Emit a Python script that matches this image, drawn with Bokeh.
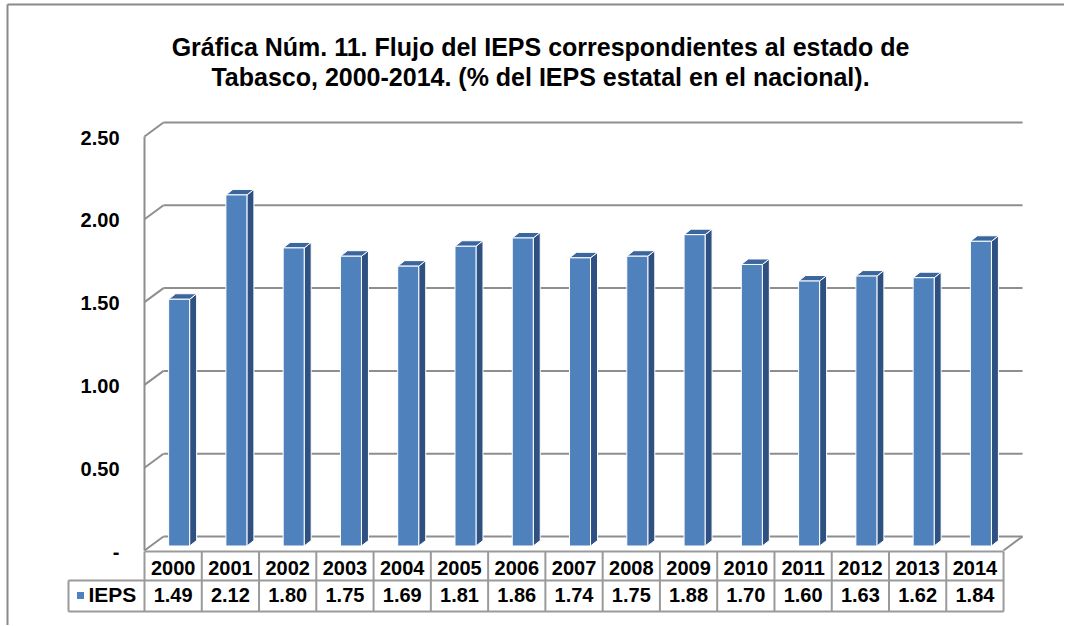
from bokeh.plotting import figure
from bokeh.models import Range1d, ColumnDataSource
from bokeh.core.properties import value
from bokeh.embed import file_html
from bokeh.resources import INLINE

# ---------------- data ----------------
years = ["2000", "2001", "2002", "2003", "2004", "2005", "2006", "2007",
         "2008", "2009", "2010", "2011", "2012", "2013", "2014"]
ieps = [1.49, 2.12, 1.80, 1.75, 1.69, 1.81, 1.86, 1.74, 1.75, 1.88,
        1.70, 1.60, 1.63, 1.62, 1.84]
series_name = "IEPS"
y_ticks = [0.0, 0.5, 1.0, 1.5, 2.0, 2.5]
y_tick_labels = ["-", "0.50", "1.00", "1.50", "2.00", "2.50"]
title_lines = ["Gráfica Núm. 11. Flujo del IEPS correspondientes al estado de",
               "Tabasco, 2000-2014. (% del IEPS estatal en el nacional)."]

# ---------------- layout (pixel scale helpers) ----------------
W, H = 1064, 625
PX_X = 57.27          # pixels per category column
PX_Y = 165.6          # pixels per value unit
X0_PX = 144           # x pixel of category 0 edge
Y0_PX = 550           # y pixel (from top) of value 0 (front plane)

def dx(px):
    return px / PX_X

def dy(px):
    return px / PX_Y

def ix(px):
    return (px - X0_PX) / PX_X

def iy(py):
    return (Y0_PX - py) / PX_Y

FONT = value("Liberation Sans")
GRID = "#8e8e8e"
TABLE = "#9a9a9a"

p = figure(width=W, height=H, output_backend="svg", toolbar_location=None,
           x_range=Range1d(ix(0), ix(W)), y_range=Range1d(iy(H), iy(0)),
           min_border=0, border_fill_color="white", background_fill_color="white")
p.axis.visible = False
p.grid.visible = False
p.outline_line_color = None

n = len(years)

# outer chart border (left and top visible)
p.segment(x0=[ix(7), ix(7)], y0=[iy(H), iy(4)], x1=[ix(7), ix(W)], y1=[iy(4), iy(4)],
          line_color="#8a8a8a", line_width=2)

# ---------------- 3D walls ----------------
DX, DY = dx(19), dy(14)
p.segment(x0=[DX] * len(y_ticks), y0=[v + DY for v in y_ticks],
          x1=[n + DX] * len(y_ticks), y1=[v + DY for v in y_ticks],
          line_color=GRID, line_width=2)
p.segment(x0=[0] * len(y_ticks), y0=y_ticks,
          x1=[DX] * len(y_ticks), y1=[v + DY for v in y_ticks],
          line_color=GRID, line_width=2)
p.segment(x0=[0], y0=[0], x1=[0], y1=[y_ticks[-1]], line_color=GRID, line_width=2)
p.segment(x0=[n], y0=[0], x1=[n + DX], y1=[DY], line_color=GRID, line_width=2)

# ---------------- bars ----------------
HW = dx(10.5)
BDX, BDY = dx(6), dy(4.5)
SDX, SDY = dx(7), dy(5.5)
left = [i + 0.5 - HW + BDX for i in range(n)]
right = [i + 0.5 + HW + BDX for i in range(n)]
base = [BDY] * n
top = [v + BDY for v in ieps]
src = ColumnDataSource(dict(left=left, right=right, bottom=base, top=top))

side_xs = [[r, r + SDX, r + SDX, r] for r in right]
side_ys = [[b, b + SDY, t + SDY, t] for b, t in zip(base, top)]
top_xs = [[l, r, r + SDX, l + SDX] for l, r in zip(left, right)]
top_ys = [[t, t, t + SDY, t + SDY] for t in top]
p.patches(xs=side_xs, ys=side_ys, fill_color="#2f5182", line_color="white", line_width=1)
p.patches(xs=top_xs, ys=top_ys, fill_color="#3b659d", line_color="white", line_width=1)
p.quad(left="left", right="right", bottom="bottom", top="top", source=src,
       fill_color="#4f81bd", line_color="white", line_width=1)

# ---------------- y tick labels ----------------
p.text(x=[ix(119)] * len(y_ticks), y=[v - dy(1) for v in y_ticks], text=y_tick_labels,
       text_font=FONT, text_font_style="bold", text_font_size="20px",
       text_align="right", text_baseline="middle", text_color="black")

# ---------------- data table ----------------
r0, r1, r2 = iy(551), iy(580), iy(611)
leg_left = ix(68)
hl_y = [r0, r1, r2]
p.segment(x0=[0, leg_left, leg_left], y0=hl_y, x1=[n, n, n], y1=hl_y,
          line_color=TABLE, line_width=2)
p.segment(x0=list(range(n + 1)), y0=[r0] * (n + 1), x1=list(range(n + 1)), y1=[r2] * (n + 1),
          line_color=TABLE, line_width=2)
p.segment(x0=[leg_left], y0=[r1], x1=[leg_left], y1=[r2], line_color=TABLE, line_width=2)

centers = [i + 0.5 for i in range(n)]
p.text(x=centers, y=[iy(567)] * n, text=years,
       text_font=FONT, text_font_style="bold", text_font_size="20px",
       text_align="center", text_baseline="middle", text_color="black")
p.text(x=centers, y=[iy(594)] * n, text=["%.2f" % v for v in ieps],
       text_font=FONT, text_font_style="bold", text_font_size="20px",
       text_align="center", text_baseline="middle", text_color="black")
# legend key
p.scatter(x=[ix(80)], y=[iy(595)], marker="square", size=7,
          fill_color="#4f81bd", line_color=None)
p.text(x=[ix(88)], y=[iy(594)], text=[series_name],
       text_font=FONT, text_font_style="bold", text_font_size="21px",
       text_align="left", text_baseline="middle", text_color="black")

# ---------------- title ----------------
p.text(x=[ix(540), ix(540)], y=[iy(46), iy(76)], text=title_lines,
       text_font=FONT, text_font_style="bold", text_font_size="25px",
       text_align="center", text_baseline="middle", text_color="black")

open("out.html", "w").write(file_html(p, INLINE))
